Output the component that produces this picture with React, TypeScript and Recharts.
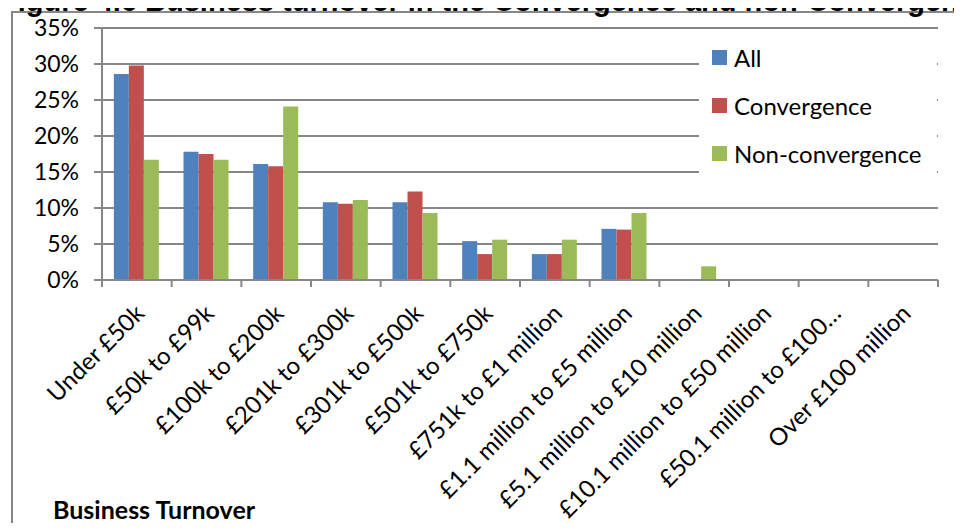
import { BarChart, Bar, XAxis, YAxis, CartesianGrid, Legend } from 'recharts';

const categories = [
  'Under £50k',
  '£50k to £99k',
  '£100k to £200k',
  '£201k to £300k',
  '£301k to £500k',
  '£501k to £750k',
  '£751k to £1 million',
  '£1.1 million to £5 million',
  '£5.1 million to £10 million',
  '£10.1 million to £50 million',
  '£50.1 million to £100…',
  'Over £100 million',
];
const allValues = [28.6, 17.8, 16.1, 10.8, 10.8, 5.4, 3.6, 7.1, 0, 0, 0, 0];
const convergenceValues = [29.8, 17.5, 15.8, 10.6, 12.3, 3.6, 3.6, 7.0, 0, 0, 0, 0];
const nonConvergenceValues = [16.7, 16.7, 24.1, 11.1, 9.3, 5.6, 5.6, 9.3, 1.9, 0, 0, 0];
const yTicks = [0, 5, 10, 15, 20, 25, 30, 35];

const data = categories.map((name, i) => ({
  name,
  all: allValues[i],
  convergence: convergenceValues[i],
  nonConvergence: nonConvergenceValues[i],
}));

const W = 962;
const H = 531;
const M = { top: 28, right: 24, bottom: 0, left: 0 };
const Y_W = 102;
const BAND = (W - Y_W - M.right) / categories.length;
const GRID = '#878787';
const FONT = 'Lato, "Open Sans", sans-serif';

const XTick = (props: any) => {
  const { x, y, payload, index } = props;
  const lx = x + 9;
  const ly = y + 35;
  return (
    <g>
      <line x1={x - BAND / 2} x2={x - BAND / 2} y1={y} y2={y + 7} stroke={GRID} strokeWidth={2} />
      {index === categories.length - 1 && (
        <line x1={x + BAND / 2} x2={x + BAND / 2} y1={y} y2={y + 7} stroke={GRID} strokeWidth={2} />
      )}
      <text x={lx} y={ly} transform={`rotate(-45 ${lx} ${ly})`} textAnchor="end" fontSize={24} fontFamily={FONT} fill="#000">
        {payload.value}
      </text>
    </g>
  );
};

const renderLegend = (props: any) => (
  <div style={{ background: '#fff', width: '100%', height: '100%', fontFamily: FONT, fontSize: 24, color: '#000' }}>
    {props.payload.map((entry: any) => (
      <div key={entry.value} style={{ display: 'flex', alignItems: 'center', height: 48, paddingLeft: 13 }}>
        <span style={{ display: 'inline-block', width: 15, height: 15, background: entry.color, marginRight: 7 }} />
        <span>{entry.value}</span>
      </div>
    ))}
  </div>
);

export default function App() {
  return (
    <div style={{ position: 'relative', width: W, height: H, margin: -8, overflow: 'hidden', background: '#fff' }}>
      <div style={{ position: 'absolute', left: 11, top: 11, width: 2000, height: 2000, border: `2px solid ${GRID}` }} />
      <div style={{ position: 'absolute', left: 0, top: 0 }}>
        <BarChart width={W} height={H} data={data} margin={M} barCategoryGap="17%" barGap={0}>
          <CartesianGrid vertical={false} stroke={GRID} strokeWidth={2} />
          <XAxis
            dataKey="name"
            interval={0}
            height={251}
            tickSize={0}
            tickMargin={0}
            tickLine={false}
            axisLine={{ stroke: GRID, strokeWidth: 2 }}
            tick={<XTick />}
          />
          <YAxis
            width={Y_W}
            domain={[0, 35]}
            ticks={yTicks}
            interval={0}
            tickFormatter={(v: number) => `${v}%`}
            tickSize={8}
            tickMargin={15}
            tickLine={{ stroke: GRID, strokeWidth: 2 }}
            axisLine={{ stroke: GRID, strokeWidth: 2 }}
            tick={{ fill: '#000', fontSize: 23, fontFamily: FONT }}
          />
          <Legend
            layout="vertical"
            align="center"
            verticalAlign="middle"
            content={renderLegend}
            wrapperStyle={{ left: 699, top: 33, width: 238, height: 147 }}
          />
          <Bar dataKey="all" name="All" fill="#4F81BD" isAnimationActive={false} />
          <Bar dataKey="convergence" name="Convergence" fill="#C0504D" isAnimationActive={false} />
          <Bar dataKey="nonConvergence" name="Non-convergence" fill="#9BBB59" isAnimationActive={false} />
        </BarChart>
      </div>
      <div style={{ position: 'absolute', left: 53, top: 494, fontFamily: FONT, fontWeight: 'bold', fontSize: 25, lineHeight: '30px', color: '#000' }}>
        Business Turnover
      </div>
      <svg style={{ position: 'absolute', left: 0, top: 0 }} width={W} height={20}>
        <text x={0} y={11} fontFamily='"Liberation Sans", Arial, sans-serif' fontWeight="bold" fontSize={29} fill="#000">
          Figure 4.6 Business turnover in the Convergence and non-Convergence areas
        </text>
      </svg>
    </div>
  );
}
